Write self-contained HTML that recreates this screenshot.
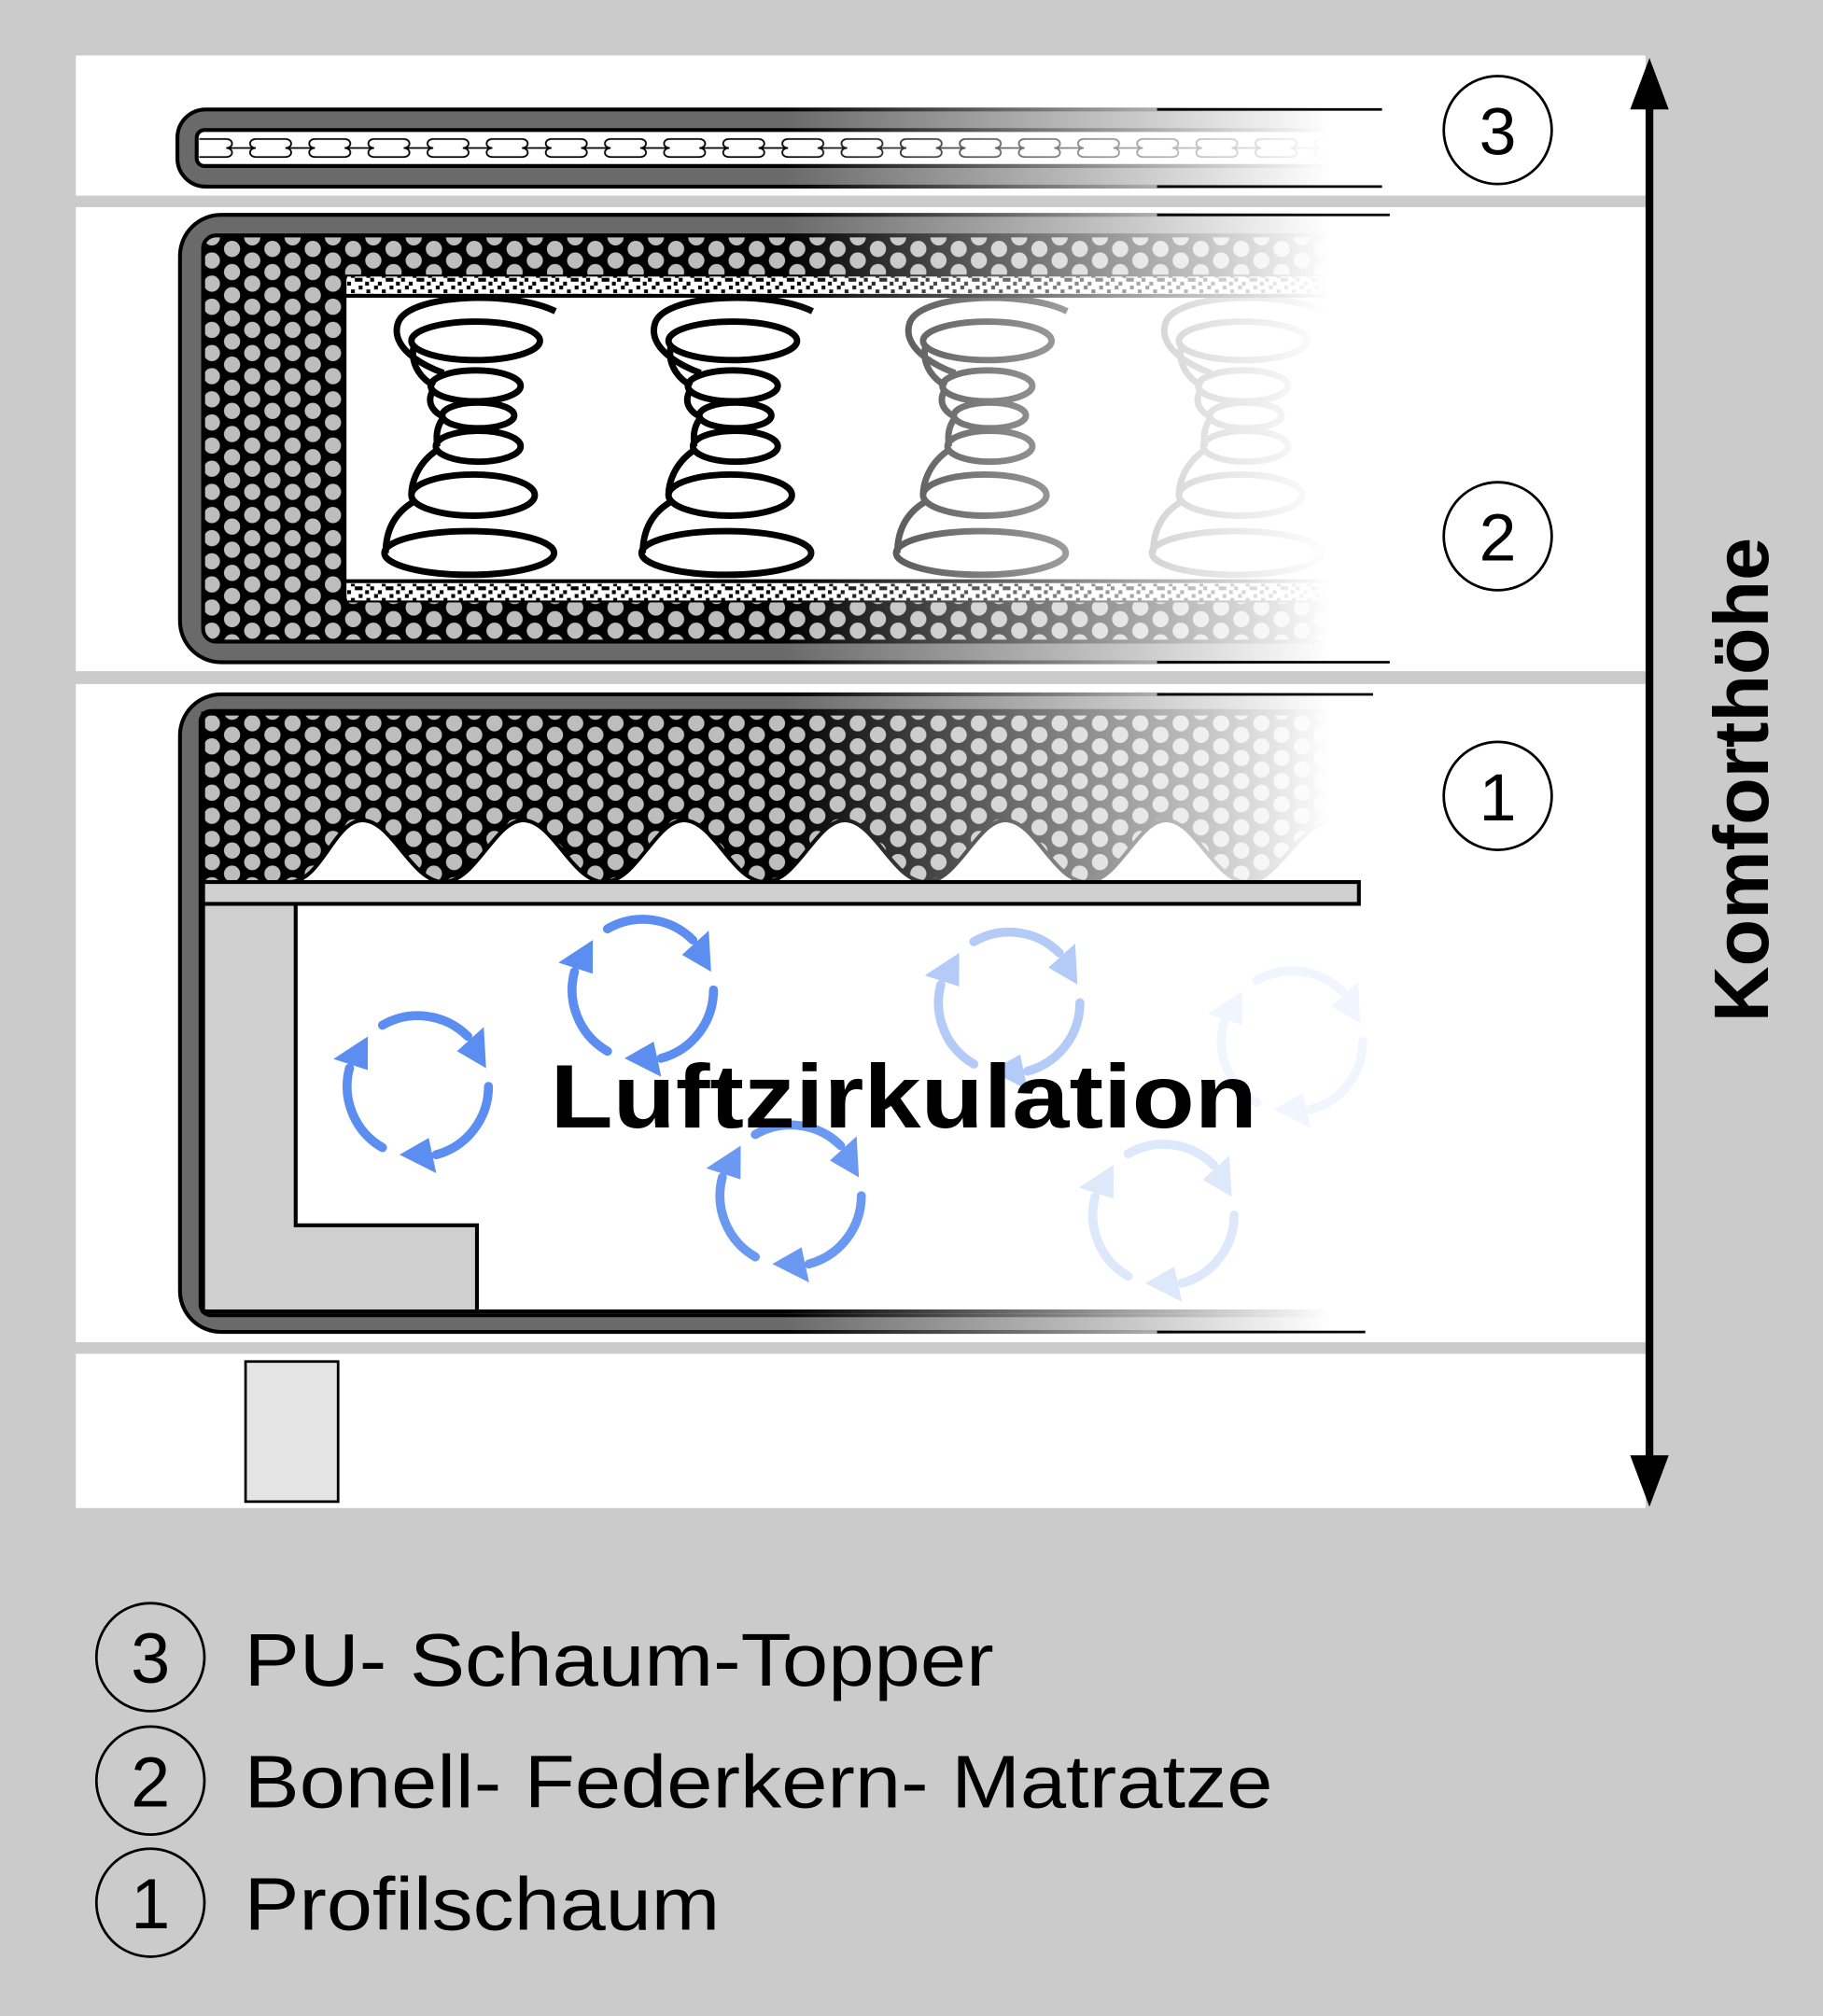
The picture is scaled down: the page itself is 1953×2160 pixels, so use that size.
<!DOCTYPE html>
<html><head><meta charset="utf-8"><style>html,body{margin:0;padding:0;background:#cbcbcb}svg{display:block}</style></head>
<body>
<svg width="1953" height="2160" viewBox="0 0 1418 1568" xmlns="http://www.w3.org/2000/svg" font-family="Liberation Sans, sans-serif">
<defs>
<pattern id="dots" width="31.4" height="18" patternUnits="userSpaceOnUse">
<rect width="31.4" height="18" fill="#000"/>
<circle cx="7.8" cy="4.5" r="6.3" fill="#bdbdbd"/><circle cx="23.5" cy="13.5" r="6.3" fill="#bdbdbd"/>
<circle cx="-7.9" cy="13.5" r="6.3" fill="#bdbdbd"/><circle cx="39.2" cy="4.5" r="6.3" fill="#bdbdbd"/>
<circle cx="23.5" cy="-4.5" r="6.3" fill="#bdbdbd"/><circle cx="7.8" cy="22.5" r="6.3" fill="#bdbdbd"/>
</pattern>
<pattern id="noise" width="24" height="12" patternUnits="userSpaceOnUse">
<rect width="24" height="12" fill="#fff"/>
<rect x="0" y="0" width="3" height="3"/><rect x="6" y="3" width="3" height="3"/><rect x="12" y="0" width="6" height="3"/><rect x="3" y="6" width="3" height="3"/><rect x="15" y="6" width="3" height="3"/><rect x="20" y="3" width="3" height="3"/><rect x="9" y="9" width="3" height="3"/><rect x="21" y="9" width="3" height="3"/>
</pattern>
<pattern id="cells" width="46" height="28" patternUnits="userSpaceOnUse" x="153" y="101">
<path d="M0,7 C-6,7 -6,14 0,14 C-6,14 -6,21 0,21 M46,7 C40,7 40,14 46,14 C40,14 40,21 46,21 M23,7 C29,7 29,14 23,14 C29,14 29,21 23,21 M0,7 H23 M0,21 H23 M23,14 H46" fill="none" stroke="#000" stroke-width="1.3"/>
</pattern>
<linearGradient id="fade" x1="0" x2="1418" gradientUnits="userSpaceOnUse">
<stop offset="0.43" stop-color="#fff"/><stop offset="0.73" stop-color="#000"/></linearGradient>
<mask id="m"><rect width="1418" height="1568" fill="url(#fade)"/></mask>
<g id="cyc" fill="#5b8ef0" stroke="#5b8ef0">
<g id="seg"><path d="M-27.5,-47.6 A55,55 0 0 1 38.9,-38.9" fill="none" stroke-width="7" stroke-linecap="round"/>
<polygon points="53.1,-14.2 51.3,-46.2 30.5,-27.4" stroke="none"/></g>
<use href="#seg" transform="rotate(120)"/><use href="#seg" transform="rotate(240)"/>
</g>
<g id="spring" fill="none" stroke="#000" stroke-width="5">
<path d="M432,242 C400,226 320,228 310,250 C302,270 330,285 345,290"/>
<ellipse cx="370" cy="265" rx="50" ry="15"/>
<ellipse cx="370" cy="300" rx="35" ry="12"/>
<ellipse cx="372" cy="323" rx="28" ry="10"/>
<ellipse cx="372" cy="347" rx="33" ry="12"/>
<ellipse cx="368" cy="385" rx="48" ry="16"/>
<ellipse cx="365" cy="430" rx="66" ry="17"/>
<path d="M322,268 C318,285 330,296 338,300 M337,303 C330,315 340,322 345,324 M344,326 C338,335 340,343 340,347 M340,350 C325,360 320,375 320,385 M322,390 C305,400 300,415 300,430"/>
</g>
</defs>
<rect width="1418" height="1568" fill="#cbcbcb"/>
<rect x="59" y="43" width="1221" height="109" fill="#fff"/>
<rect x="59" y="161" width="1221" height="361" fill="#fff"/>
<rect x="59" y="532" width="1221" height="512" fill="#fff"/>
<rect x="59" y="1053" width="1221" height="120" fill="#fff"/>

<g stroke="#000" stroke-width="2">
<line x1="900" y1="85" x2="1075" y2="85"/><line x1="900" y1="145" x2="1075" y2="145"/>
<line x1="900" y1="167" x2="1081" y2="167"/><line x1="900" y1="515" x2="1081" y2="515"/>
<line x1="900" y1="540" x2="1068" y2="540"/><line x1="900" y1="1036" x2="1062" y2="1036"/>
</g>

<g mask="url(#m)">
<path d="M1040,85 H160 A22,22 0 0 0 138,107 V123 A22,22 0 0 0 160,145 H1040 Z" fill="#6a6a6a" stroke="#000" stroke-width="3"/>
<rect x="153" y="101" width="890" height="28" rx="6" fill="#fff" stroke="#000" stroke-width="3"/>
<rect x="155" y="103" width="886" height="24" fill="url(#cells)"/>
<path d="M1040,167 H172 A32,32 0 0 0 140,199 V483 A32,32 0 0 0 172,515 H1040 Z" fill="#6a6a6a" stroke="#000" stroke-width="3"/>
<rect x="158" y="183" width="885" height="316" rx="10" fill="url(#dots)" stroke="#000" stroke-width="3"/>
<rect x="268" y="215" width="775" height="252" fill="#fff" stroke="#000" stroke-width="3"/>
<rect x="270" y="215" width="770" height="13" fill="url(#noise)"/>
<rect x="270" y="454" width="770" height="13" fill="url(#noise)"/>
<line x1="268" y1="230" x2="1040" y2="230" stroke="#000" stroke-width="3"/>
<line x1="268" y1="452" x2="1040" y2="452" stroke="#000" stroke-width="3"/>
<use href="#spring"/>
<use href="#spring" transform="translate(200,0)"/>
<use href="#spring" transform="translate(398,0)" opacity="0.8"/>
<use href="#spring" transform="translate(597,0)" opacity="0.5"/>
<path d="M1040,540 H172 A32,32 0 0 0 140,572 V1004 A32,32 0 0 0 172,1036 H1040 Z" fill="#6a6a6a" stroke="#000" stroke-width="3"/>
<rect x="156" y="553" width="890" height="470" rx="8" fill="#fff" stroke="#000" stroke-width="3"/>
<path d="M158,555 V686 H225 C250,686 260,638 282,638 C305,638 320,686 345,686 C370,686 385,638 407,638 C430,638 445,686 470,686 C495,686 510,638 532,638 C555,638 570,686 595,686 C620,686 635,638 657,638 C680,638 695,686 720,686 C745,686 760,638 782,638 C805,638 820,686 845,686 C870,686 885,638 907,638 C930,638 945,686 970,686 C995,686 1010,638 1040,638 V555 Z" fill="url(#dots)" stroke="#000" stroke-width="3"/>
<polygon points="158,703 230,703 230,953 371,953 371,1020 158,1020" fill="#cfcfcf" stroke="#000" stroke-width="3"/>
<line x1="158" y1="1020" x2="1040" y2="1020" stroke="#000" stroke-width="3"/>
</g>
<rect x="158" y="686" width="899" height="17" fill="#cfcfcf" stroke="#000" stroke-width="3"/>

<use href="#cyc" transform="translate(325,845)"/>
<use href="#cyc" transform="translate(500,770)"/>
<use href="#cyc" transform="translate(615,930)" opacity="0.9"/>
<use href="#cyc" transform="translate(785,780)" opacity="0.45"/>
<use href="#cyc" transform="translate(905,945)" opacity="0.2"/>
<use href="#cyc" transform="translate(1005,810)" opacity="0.08"/>
<text x="428" y="877" font-size="70" font-weight="bold" textLength="550" lengthAdjust="spacingAndGlyphs">Luftzirkulation</text>

<rect x="191" y="1059" width="72" height="109" fill="#e4e4e4" stroke="#000" stroke-width="2"/>

<g fill="#fff" stroke="#000" stroke-width="2">
<circle cx="1165" cy="101" r="42"/><circle cx="1165" cy="417" r="42"/><circle cx="1165" cy="619" r="42"/>
</g>
<g font-size="52" text-anchor="middle">
<text x="1165" y="120">3</text><text x="1165" y="436">2</text><text x="1165" y="638">1</text>
</g>

<line x1="1283" y1="70" x2="1283" y2="1145" stroke="#000" stroke-width="6"/>
<polygon points="1283,45 1268,85 1298,85"/>
<polygon points="1283,1172 1268,1132 1298,1132"/>
<text transform="translate(1375,795) rotate(-90)" font-size="60" font-weight="bold" textLength="377" lengthAdjust="spacingAndGlyphs">Komforthöhe</text>

<g fill="none" stroke="#000" stroke-width="2">
<circle cx="117" cy="1289" r="42"/><circle cx="117" cy="1385" r="42"/><circle cx="117" cy="1480" r="42"/>
</g>
<g font-size="55" text-anchor="middle">
<text x="117" y="1309">3</text><text x="117" y="1405">2</text><text x="117" y="1500">1</text>
</g>
<g font-size="58">
<text x="190" y="1311" textLength="583" lengthAdjust="spacingAndGlyphs">PU- Schaum-Topper</text>
<text x="190" y="1406" textLength="800" lengthAdjust="spacingAndGlyphs">Bonell- Federkern- Matratze</text>
<text x="190" y="1501" textLength="370" lengthAdjust="spacingAndGlyphs">Profilschaum</text>
</g>
</svg>
</body></html>
